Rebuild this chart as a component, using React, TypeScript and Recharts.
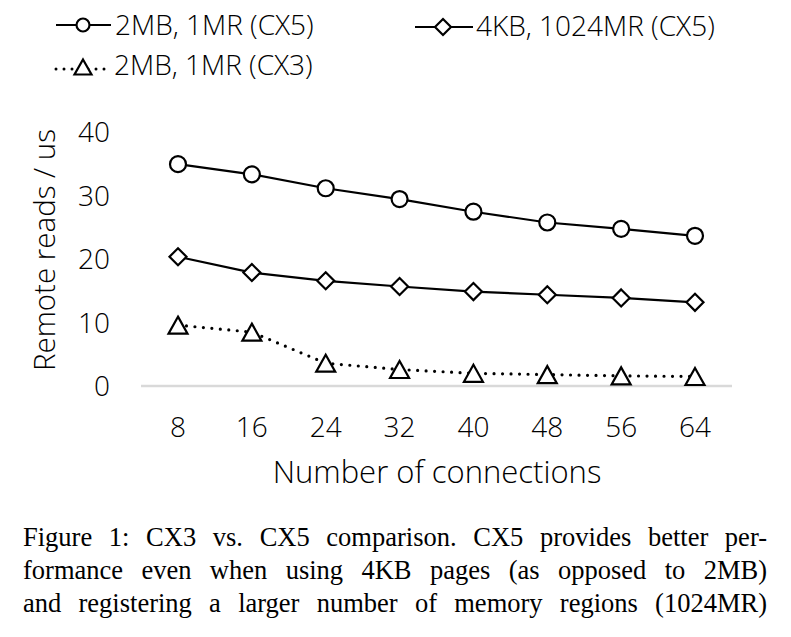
import React from "react";
import { Label, Line, LineChart, XAxis, YAxis } from "recharts";

const connections = ["8", "16", "24", "32", "40", "48", "56", "64"];
const cx5Huge = [35.0, 33.4, 31.2, 29.5, 27.5, 25.8, 24.8, 23.7];
const cx5Small = [20.4, 17.9, 16.6, 15.7, 14.9, 14.4, 13.9, 13.2];
const cx3Huge = [9.6, 8.5, 3.6, 2.6, 2.0, 1.8, 1.6, 1.5];
const yTicks = [0, 10, 20, 30, 40];
const seriesNames = ["2MB, 1MR (CX5)", "4KB, 1024MR (CX5)", "2MB, 1MR (CX3)"];
const captionLines = [
  "Figure 1: CX3 vs. CX5 comparison. CX5 provides better per-",
  "formance even when using 4KB pages (as opposed to 2MB)",
  "and registering a larger number of memory regions (1024MR)",
];

const data = connections.map((c, i) => ({
  conn: c,
  cx5Huge: cx5Huge[i],
  cx5Small: cx5Small[i],
  cx3Huge: cx3Huge[i],
}));

const sans = "'Open Sans', Lato, sans-serif";

function CircleDot(props: any) {
  const { cx, cy, r = 8 } = props;
  if (cx == null || cy == null) return null;
  return <circle cx={cx} cy={cy} r={r} fill="#fff" stroke="#000" strokeWidth={2.2} />;
}

function DiamondDot(props: any) {
  const { cx, cy, s = 8.5 } = props;
  if (cx == null || cy == null) return null;
  return (
    <path
      d={`M${cx} ${cy - s}L${cx + s} ${cy}L${cx} ${cy + s}L${cx - s} ${cy}Z`}
      fill="#fff"
      stroke="#000"
      strokeWidth={2.2}
    />
  );
}

function TriangleDot(props: any) {
  const { cx, cy, w = 9.5, h = 8.5 } = props;
  if (cx == null || cy == null) return null;
  return (
    <path
      d={`M${cx} ${cy - h}L${cx + w} ${cy + h}L${cx - w} ${cy + h}Z`}
      fill="#fff"
      stroke="#000"
      strokeWidth={2.2}
    />
  );
}

function ChartLegend() {
  return (
    <svg width={791} height={90} style={{ position: "absolute", left: 0, top: 0 }}>
      <g fontFamily={sans} fontWeight={300} fontSize={28} fill="#000">
        <line x1={56} x2={111} y1={25} y2={25} stroke="#000" strokeWidth={2.2} />
        <CircleDot cx={83} cy={25} r={6.5} />
        <text x={115} y={35}>{seriesNames[0]}</text>

        <line x1={415} x2={473} y1={27} y2={27} stroke="#000" strokeWidth={2.2} />
        <DiamondDot cx={443} cy={27} s={8} />
        <text x={476} y={36}>{seriesNames[1]}</text>

        <line x1={56} x2={110} y1={69} y2={69} stroke="#000" strokeWidth={3} strokeDasharray="0 8" strokeLinecap="round" />
        <TriangleDot cx={83} cy={67} w={8.5} h={7.5} />
        <text x={114} y={75}>{seriesNames[2]}</text>
      </g>
    </svg>
  );
}

export default function App() {
  return (
    <div style={{ position: "absolute", left: 0, top: 0, width: 791, height: 637, background: "#fff" }}>
      <LineChart width={791} height={500} data={data} margin={{ top: 132.5, right: 59, left: 0, bottom: 14 }}>
        <XAxis
          dataKey="conn"
          height={100}
          padding={{ left: 37, right: 37 }}
          axisLine={{ stroke: "#d9d9d9", strokeWidth: 2.5 }}
          tickLine={false}
          tickSize={0}
          tickMargin={31}
          tick={{ fontFamily: sans, fontWeight: 300, fontSize: 28, fill: "#000" }}
        >
          <Label
            content={() => (
              <text x={437} y={483} textAnchor="middle" fontFamily={sans} fontWeight={300} fontSize={31} fill="#000">
                Number of connections
              </text>
            )}
          />
        </XAxis>
        <YAxis
          width={141}
          domain={[0, 40]}
          ticks={yTicks}
          axisLine={false}
          tickLine={false}
          tickSize={0}
          tickMargin={31}
          tick={{ fontFamily: sans, fontWeight: 300, fontSize: 28, fill: "#000" }}
        >
          <Label
            content={() => (
              <text
                x={55}
                y={250}
                transform="rotate(-90 55 250)"
                textAnchor="middle"
                fontFamily={sans}
                fontWeight={300}
                fontSize={29.5}
                fill="#000"
              >
                Remote reads / us
              </text>
            )}
          />
        </YAxis>
        <Line
          dataKey="cx5Huge"
          name={seriesNames[0]}
          stroke="#000"
          strokeWidth={2.2}
          isAnimationActive={false}
          dot={(p: any) => <CircleDot key={`c${p.index}`} cx={p.cx} cy={p.cy} />}
        />
        <Line
          dataKey="cx5Small"
          name={seriesNames[1]}
          stroke="#000"
          strokeWidth={2.2}
          isAnimationActive={false}
          dot={(p: any) => <DiamondDot key={`d${p.index}`} cx={p.cx} cy={p.cy} />}
        />
        <Line
          dataKey="cx3Huge"
          name={seriesNames[2]}
          stroke="#000"
          strokeWidth={3.2}
          strokeDasharray="0 8.5"
          strokeLinecap="round"
          isAnimationActive={false}
          dot={(p: any) => <TriangleDot key={`t${p.index}`} cx={p.cx} cy={p.cy} />}
        />
      </LineChart>
      <ChartLegend />
      <div
        style={{
          position: "absolute",
          left: 23,
          top: 521,
          width: 744,
          fontFamily: "'Liberation Serif', 'Times New Roman', serif",
          fontSize: 26.5,
          lineHeight: "33px",
          color: "#000",
        }}
      >
        {captionLines.map((line) => (
          <div key={line} style={{ textAlign: "justify", textAlignLast: "justify", whiteSpace: "nowrap" }}>
            {line}
          </div>
        ))}
      </div>
    </div>
  );
}
